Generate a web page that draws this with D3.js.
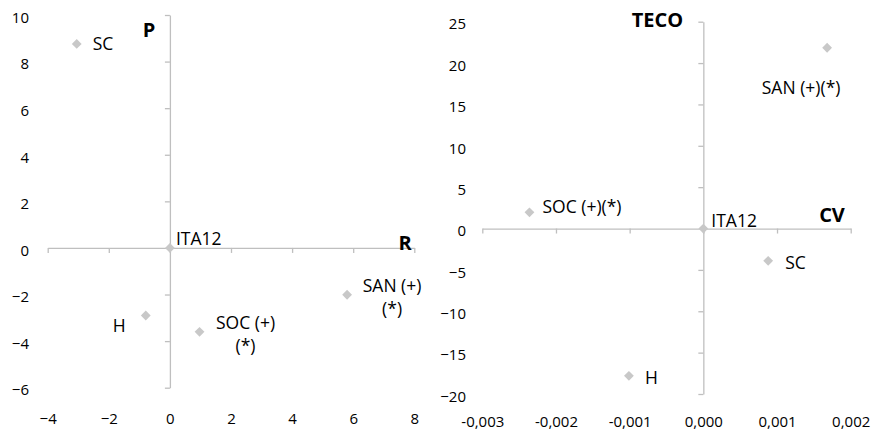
<!DOCTYPE html>
<html>
<head>
<meta charset="utf-8">
<script src="https://cdn.jsdelivr.net/npm/d3@7"></script>
<style>
  html, body { margin: 0; padding: 0; background: #fff; }
  svg { display: block; font-family: "Open Sans", sans-serif; }
</style>
</head>
<body>
<svg id="chart" width="884" height="432"></svg>
<script>
// ---- Left chart data (R vs P) ----
const leftNames  = ["SC", "ITA12", "H", "SOC (+)\n(*)", "SAN (+)\n(*)"];
const leftX      = [-3.05, 0, -0.79, 0.97, 5.80];
const leftY      = [8.76, 0, -2.90, -3.60, -2.01];
const leftXTicks = [-4, -2, 0, 2, 4, 6, 8];
const leftYTicks = [-6, -4, -2, 0, 2, 4, 6, 8, 10];
const leftXTitle = "R";
const leftYTitle = "P";

// ---- Right chart data (CV vs TECO) ----
const rightNames  = ["SAN (+)(*)", "SOC (+)(*)", "ITA12", "SC", "H"];
const rightX      = [0.00168, -0.00236, 0, 0.00088, -0.00101];
const rightY      = [21.85, 1.96, 0, -3.9, -17.8];
const rightXTicks = [-0.003, -0.002, -0.001, 0.000, 0.001, 0.002];
const rightYTicks = [-20, -15, -10, -5, 0, 5, 10, 15, 20, 25];
const rightXTitle = "CV";
const rightYTitle = "TECO";

const svg = d3.select("#chart");
const axisColor = "#bfbfbf";
const markColor = "#c8c8c8";
const commaFmt = v => d3.format(".3f")(v).replace(".", ",").replace("−", "-");

function drawPanel(cfg) {
  const g = svg.append("g");
  const x = d3.scaleLinear().domain(cfg.xDomain).range(cfg.xRange);
  const y = d3.scaleLinear().domain(cfg.yDomain).range(cfg.yRange);
  const x0 = x(0), y0 = y(0);

  // vertical axis line + ticks (crossing at x=0)
  const va = g.append("g").attr("transform", `translate(${x0},0)`)
    .call(d3.axisLeft(y).tickValues(cfg.yTicks.filter(d => d !== 0)).tickSize(5).tickSizeOuter(0).tickFormat(""));
  // horizontal axis line + ticks (crossing at y=0)
  const ha = g.append("g").attr("transform", `translate(0,${y0})`)
    .call(d3.axisBottom(x).tickValues(cfg.xTicks).tickSize(5).tickSizeOuter(0).tickFormat(""));
  [va, ha].forEach(a => {
    a.select(".domain").attr("stroke", axisColor).attr("stroke-width", 1.3);
    a.selectAll(".tick line").attr("stroke", axisColor).attr("stroke-width", 1.3);
  });

  // tick labels (low position)
  const yl = g.append("g").attr("transform", `translate(${cfg.yLabelX},0)`)
    .call(d3.axisLeft(y).tickValues(cfg.yTicks).tickSize(0).tickPadding(0).tickFormat(cfg.yFmt));
  yl.select(".domain").remove();
  yl.selectAll("text").attr("font-size", 15).attr("font-family", "Open Sans, sans-serif")
    .attr("fill", "#000").attr("dy", "0.35em").attr("y", 2);

  const xl = g.append("g").attr("transform", `translate(0,${cfg.xLabelY})`)
    .call(d3.axisBottom(x).tickValues(cfg.xTicks).tickSize(0).tickPadding(0).tickFormat(cfg.xFmt));
  xl.select(".domain").remove();
  xl.selectAll("text").attr("font-size", 15).attr("font-family", "Open Sans, sans-serif")
    .attr("fill", "#000").attr("y", 0).attr("dy", "0.35em");

  // points
  const diamond = d3.symbol().type(d3.symbolSquare).size(48);
  const data = cfg.names.map((n, i) => ({ name: n, x: cfg.xs[i], y: cfg.ys[i] }));
  g.selectAll("path.pt").data(data).join("path").attr("class", "pt")
    .attr("d", diamond)
    .attr("transform", d => `translate(${x(d.x)},${y(d.y)}) rotate(45)`)
    .attr("fill", markColor);

  // data labels
  data.forEach(d => {
    const p = cfg.labelPos[d.name];
    const lines = d.name.split("\n");
    const t = g.append("text")
      .attr("x", x(d.x) + p.dx).attr("y", y(d.y) + p.dy)
      .attr("text-anchor", p.anchor)
      .attr("font-size", 17.5).attr("fill", "#000");
    lines.forEach((ln, i) => {
      t.append("tspan").attr("x", x(d.x) + p.dx)
        .attr("dy", i === 0 ? "0.35em" : "23px").text(ln);
    });
  });

  // axis titles
  g.append("text").attr("x", cfg.yTitlePos[0]).attr("y", cfg.yTitlePos[1])
    .attr("text-anchor", "middle").attr("font-weight", "bold").attr("font-size", 20)
    .attr("fill", "#000").text(cfg.yTitle);
  g.append("text").attr("x", cfg.xTitlePos[0]).attr("y", cfg.xTitlePos[1])
    .attr("text-anchor", "middle").attr("font-weight", "bold").attr("font-size", 20)
    .attr("fill", "#000").text(cfg.xTitle);
}

drawPanel({
  names: leftNames, xs: leftX, ys: leftY,
  xDomain: [-4, 8], xRange: [47.7, 414.3],
  yDomain: [-6, 10], yRange: [387.7, 15],
  xTicks: leftXTicks, yTicks: leftYTicks,
  xFmt: d3.format("d"), yFmt: d3.format("d"),
  yLabelX: 29, xLabelY: 419,
  yTitle: leftYTitle, xTitle: leftXTitle,
  yTitlePos: [149, 37], xTitlePos: [405, 250],
  labelPos: {
    "SC": { dx: 16, dy: 0, anchor: "start" },
    "ITA12": { dx: 6, dy: -9.5, anchor: "start" },
    "H": { dx: -20, dy: 10, anchor: "end" },
    "SOC (+)\n(*)": { dx: 46, dy: -9, anchor: "middle" },
    "SAN (+)\n(*)": { dx: 45, dy: -9, anchor: "middle" }
  }
});

drawPanel({
  names: rightNames, xs: rightX, ys: rightY,
  xDomain: [-0.003, 0.002], xRange: [482.3, 850.7],
  yDomain: [-20, 25], yRange: [394, 21.7],
  xTicks: rightXTicks, yTicks: rightYTicks,
  xFmt: commaFmt, yFmt: d3.format("d"),
  yLabelX: 466, xLabelY: 422,
  yTitle: rightYTitle, xTitle: rightXTitle,
  yTitlePos: [657.5, 27], xTitlePos: [832, 222],
  labelPos: {
    "SAN (+)(*)": { dx: -26, dy: 40.6, anchor: "middle" },
    "SOC (+)(*)": { dx: 13, dy: -5, anchor: "start" },
    "ITA12": { dx: 8, dy: -8, anchor: "start" },
    "SC": { dx: 17, dy: 2, anchor: "start" },
    "H": { dx: 16, dy: 2, anchor: "start" }
  }
});
</script>
</body>
</html>
